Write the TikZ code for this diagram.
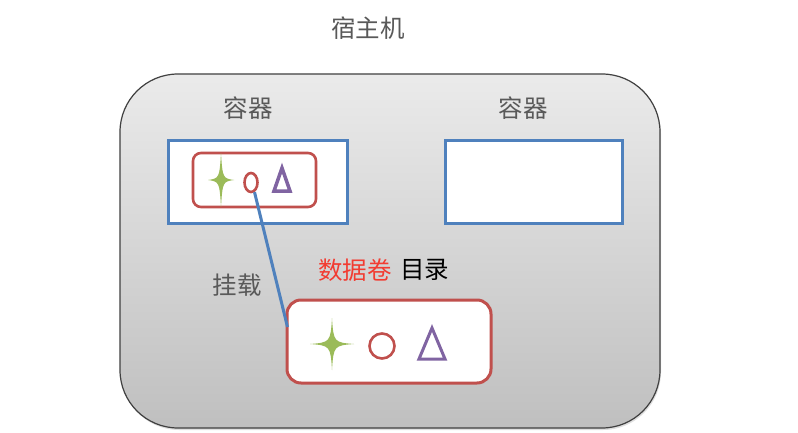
\documentclass[tikz,border=0pt]{standalone}
\usepackage{fontspec}
\setmainfont{Noto Sans CJK SC}
\usetikzlibrary{shapes.geometric,shadows}
\definecolor{obl}{HTML}{4F81BD}
\definecolor{ord}{HTML}{C0504D}
\definecolor{ogr}{HTML}{9BBB59}
\definecolor{opu}{HTML}{8064A2}
\definecolor{txg}{HTML}{595959}
\definecolor{txr}{HTML}{F23C32}
\tikzset{
  hostbox/.style={draw=black!75, line width=1.2pt, rounded corners=58pt, top color=black!8, bottom color=black!25, drop shadow={opacity=0.25, shadow xshift=1pt, shadow yshift=-2pt}, inner sep=0pt},
  ctrbox/.style={draw=obl, line width=3pt, fill=white, inner sep=0pt},
  innerbox/.style={draw=ord, line width=2.6pt, rounded corners=8pt, inner sep=0pt},
  volbox/.style={draw=ord, line width=3pt, fill=white, rounded corners=14pt, inner sep=0pt},
  lbl/.style={font=\fontsize{24.5}{28}\selectfont, text=txg, inner sep=0pt},
  star/.style={fill=ogr, draw=none},
  circ/.style={draw=ord, ellipse, inner sep=0pt},
  tri/.style={draw=opu, line join=miter},
  mount/.style={draw=obl, line width=3pt}
}
\newcommand{\fourstar}[4]{% x y halfw halfh
  \path[star] (#1,#2-#4) .. controls (#1+1.5,#2-2) and (#1+2,#2-1.5) .. (#1+#3,#2)
    .. controls (#1+2,#2+1.5) and (#1+1.5,#2+2) .. (#1,#2+#4)
    .. controls (#1-1.5,#2+2) and (#1-2,#2+1.5) .. (#1-#3,#2)
    .. controls (#1-2,#2-1.5) and (#1-1.5,#2-2) .. cycle;}
\begin{document}
\begin{tikzpicture}[x=1pt,y=-1pt]
\useasboundingbox (0,0) rectangle (798,433);
\fill[white] (0,0) rectangle (798,433);
\node[lbl] (title) at (368,28) {宿主机};
\node[hostbox, minimum width=540pt, minimum height=354pt] (host) at (390,251) {};
\node[lbl] (l1) at (248,108) {容器};
\node[lbl] (l2) at (523,108) {容器};
\node[ctrbox, minimum width=179pt, minimum height=82pt] (c1) at (258,182) {};
\node[ctrbox, minimum width=177pt, minimum height=82pt] (c2) at (533.5,182) {};
\node[innerbox, minimum width=123pt, minimum height=54pt] (c1in) at (254.5,180) {};
\fourstar{221}{180}{13}{27}
\node[circ, line width=2.6pt, minimum width=13pt, minimum height=19pt] (sc) at (251,182.5) {};
\draw[tri, line width=3.5pt] (282,168) -- (290,191) -- (274,191) -- cycle;
\node[volbox, minimum width=204pt, minimum height=83pt] (vol) at (389,341.5) {};
\fourstar{332}{344}{22}{26}
\node[circ, line width=2.6pt, minimum width=25pt, minimum height=25pt] (bc) at (382,346) {};
\draw[tri, line width=3pt] (432,328) -- (445,359) -- (419,359) -- cycle;
\coordinate (mnt) at (287.5,327);
\draw[mount] (sc.290) -- (mnt);
\node[lbl, text=black!65] (mlbl) at (237,285) {挂载};
\node[lbl, text=txr, anchor=east] (vlbl) at (392,270) {数据卷};
\node[lbl, text=black, anchor=west] (dlbl) at (400,270) {目录};
\end{tikzpicture}
\end{document}
